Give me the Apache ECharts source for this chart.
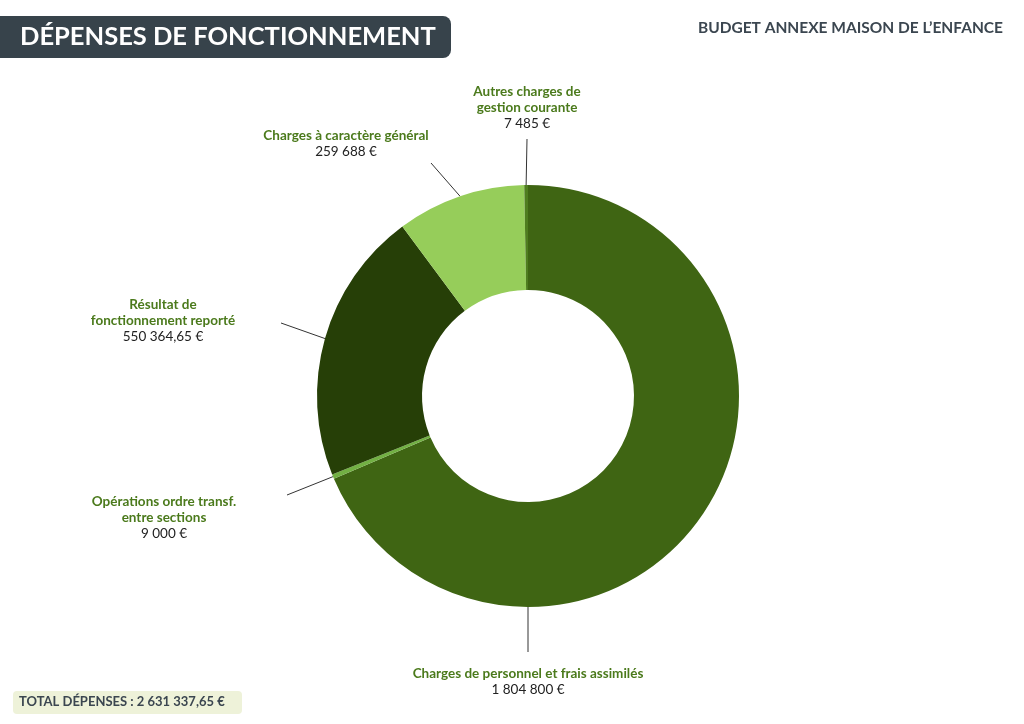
<!DOCTYPE html>
<html>
<head>
<meta charset="utf-8">
<script src="https://cdn.jsdelivr.net/npm/echarts@6/dist/echarts.min.js"></script>
<style>
  html, body { margin: 0; padding: 0; background: #fff; }
  #chart { width: 1024px; height: 724px; }
</style>
</head>
<body>
<div id="chart"></div>
<script>
// données du budget
const categories = [
  'Charges de personnel et frais assimilés',
  'Opérations ordre transf.\nentre sections',
  'Résultat de\nfonctionnement reporté',
  'Charges à caractère général',
  'Autres charges de\ngestion courante'
];
const values = [1804800, 9000, 550364.65, 259688, 7485];
const valueLabels = ['1 804 800 €', '9 000 €', '550 364,65 €', '259 688 €', '7 485 €'];
const colors = ['#3f6513', '#72b043', '#263f07', '#96cd5a', '#4f7d1f'];
const totalLabel = 'TOTAL DÉPENSES : 2 631 337,65 €';

// placement des étiquettes (haut du bloc, centre) et fin des traits
const labelPos = [[528, 666], [164, 494], [163, 297], [346, 128], [527, 84]];
const lineEnd = [[528, 652], [287, 495], [281, 323], [431, 163], [527, 139]];

const cx = 528, cy = 396, rIn = 106, rOut = 211;

let myChart = echarts.init(document.getElementById('chart'));

let option = {
  animation: false,
  textStyle: { fontFamily: 'Lato' },
  graphic: [
    {
      type: 'rect',
      shape: { x: 0, y: 16, width: 451, height: 42, r: [0, 8, 8, 0] },
      style: { fill: '#37434b' }
    },
    {
      type: 'text',
      x: 20, y: 37,
      style: {
        text: 'DÉPENSES DE FONCTIONNEMENT',
        fill: '#fff', font: 'bold 25.5px Lato', verticalAlign: 'middle'
      }
    },
    {
      type: 'text',
      x: 1003, y: 28,
      style: {
        text: 'BUDGET ANNEXE MAISON DE L\u2019ENFANCE',
        fill: '#3b4650', font: 'bold 15.5px Lato', align: 'right', verticalAlign: 'middle'
      }
    },
    {
      type: 'rect',
      shape: { x: 13, y: 691, width: 229, height: 23, r: 4 },
      style: { fill: '#eef2d9' }
    },
    {
      type: 'text',
      x: 19, y: 702,
      style: {
        text: totalLabel,
        fill: '#3b4650', font: 'bold 13px Lato', verticalAlign: 'middle'
      }
    }
  ],
  series: [
    {
      type: 'pie',
      center: [cx, cy],
      radius: [rIn, rOut],
      startAngle: 90,
      clockwise: true,
      avoidLabelOverlap: false,
      silent: true,
      itemStyle: { borderWidth: 0 },
      label: {
        show: true,
        formatter: function (p) {
          let lines = p.name.split('\n').map(function (s) { return '{n|' + s + '}'; });
          return lines.join('\n') + '\n{v|' + valueLabels[p.dataIndex] + '}';
        },
        rich: {
          n: { fontFamily: 'Lato', fontWeight: 'bold', fontSize: 13.5, color: '#4b7a1c', lineHeight: 16, align: 'center' },
          v: { fontFamily: 'Lato', fontSize: 13.5, color: '#222', lineHeight: 16, align: 'center' }
        }
      },
      labelLine: {
        show: true,
        lineStyle: { color: '#333', width: 1 }
      },
      labelLayout: function (params) {
        let i = params.dataIndex;
        let pts = params.labelLinePoints;
        let start = pts ? pts[0] : lineEnd[i];
        if (i === 0) {
          start = [cx, cy + rOut];
        }
        return {
          x: labelPos[i][0],
          y: labelPos[i][1],
          align: 'center',
          verticalAlign: 'top',
          labelLinePoints: [start, lineEnd[i], lineEnd[i]]
        };
      },
      data: categories.map(function (name, i) {
        return { name: name, value: values[i], itemStyle: { color: colors[i] } };
      })
    }
  ]
};

myChart.setOption(option);

window.addEventListener('resize', function () {
  myChart.resize();
});
</script>
</body>
</html>
